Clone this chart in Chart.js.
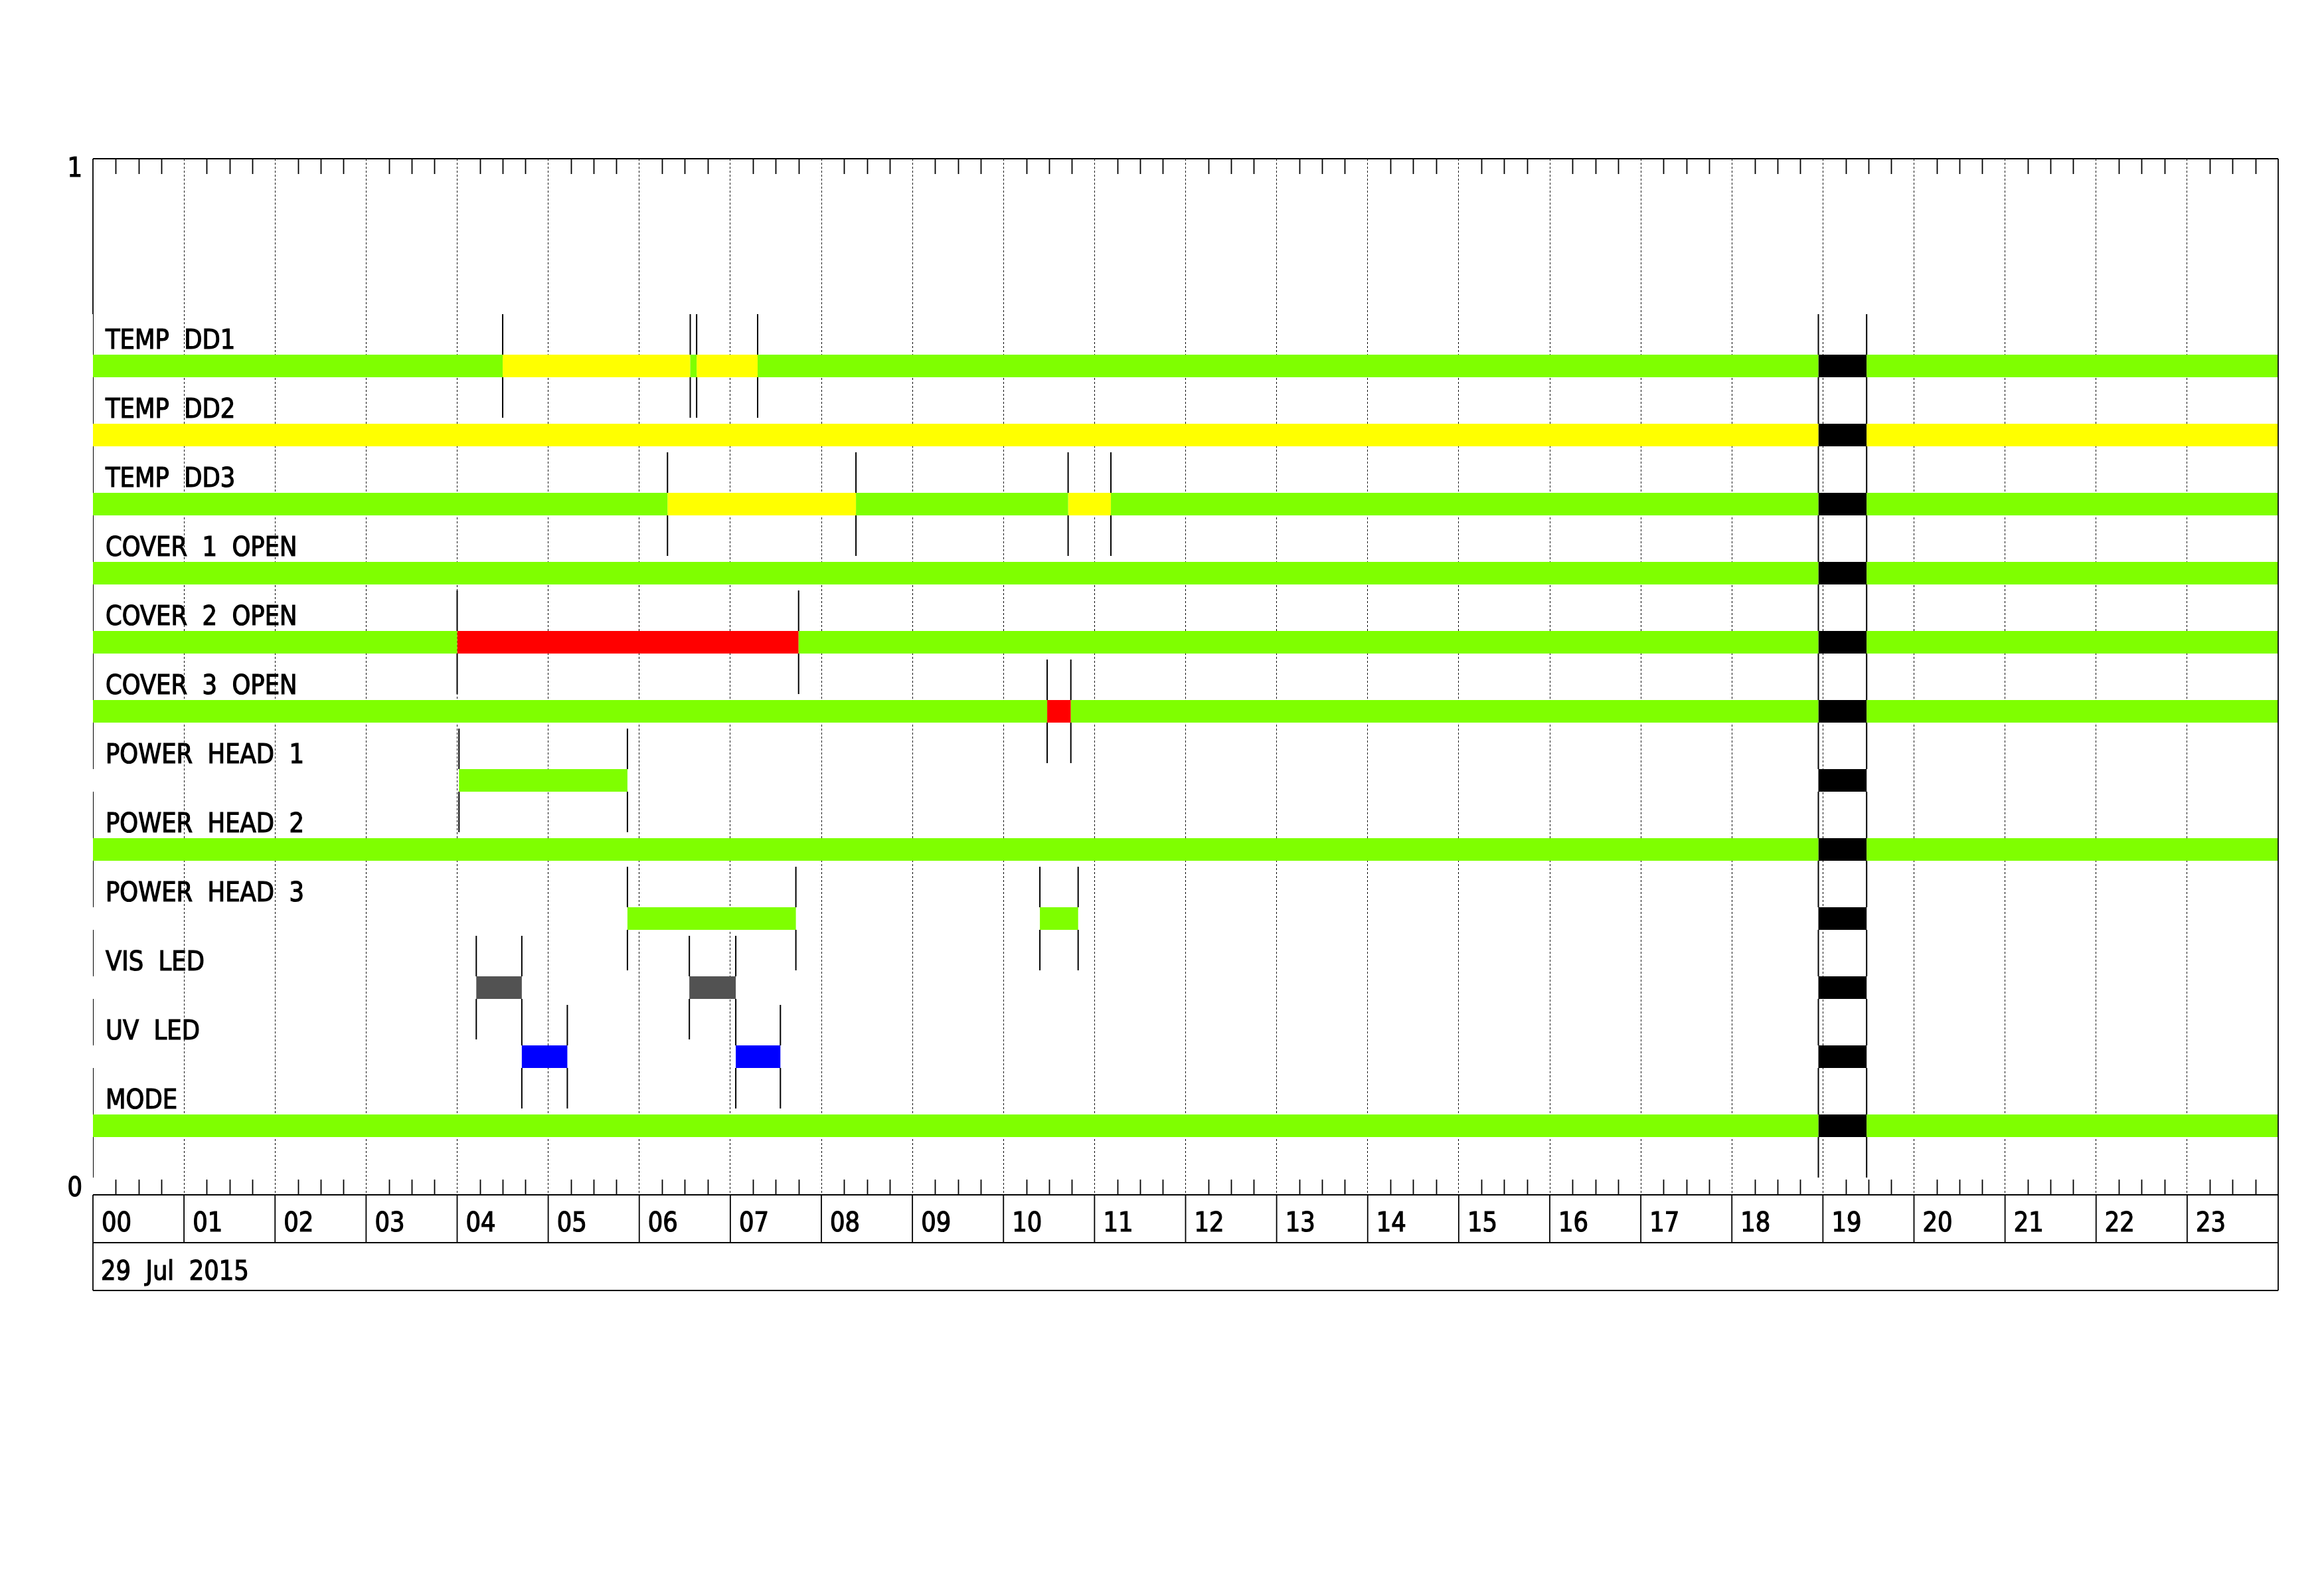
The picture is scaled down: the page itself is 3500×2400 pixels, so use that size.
<!DOCTYPE html>
<html><head><meta charset="utf-8">
<script src="https://cdn.jsdelivr.net/npm/chart.js@4.4.1/dist/chart.umd.min.js"></script>
<style>html,body{margin:0;padding:0;background:#fff}#wrap{width:3500px;height:2400px}canvas{display:block}</style>
</head><body>
<div id="wrap"><canvas id="c" width="3500" height="2400"></canvas></div>
<script>
// ---------- data ----------
const hourLabels = ['00','01','02','03','04','05','06','07','08','09','10','11','12','13','14','15','16','17','18','19','20','21','22','23'];
const dateLabel = '29 Jul 2015';
const yTickLabels = ['0', '1'];
const rowLabels = ['TEMP DD1','TEMP DD2','TEMP DD3','COVER 1 OPEN','COVER 2 OPEN','COVER 3 OPEN','POWER HEAD 1','POWER HEAD 2','POWER HEAD 3','VIS LED','UV LED','MODE'];
const rowValues = [0.800, 0.7333, 0.6667, 0.600, 0.5333, 0.4667, 0.400, 0.3333, 0.2667, 0.200, 0.1333, 0.0667];
const noDataSpan = [18.95, 19.48];
// [start hour, end hour, state]
const tempDD1   = [[0,4.50,'ok'],[4.50,6.56,'warn'],[6.56,6.63,'ok'],[6.63,7.30,'warn'],[7.30,18.95,'ok'],[19.48,24,'ok']];
const tempDD2   = [[0,18.95,'warn'],[19.48,24,'warn']];
const tempDD3   = [[0,6.31,'ok'],[6.31,8.38,'warn'],[8.38,10.71,'ok'],[10.71,11.18,'warn'],[11.18,18.95,'ok'],[19.48,24,'ok']];
const cover1    = [[0,18.95,'ok'],[19.48,24,'ok']];
const cover2    = [[0,4.00,'ok'],[4.00,7.75,'alarm'],[7.75,18.95,'ok'],[19.48,24,'ok']];
const cover3    = [[0,10.48,'ok'],[10.48,10.74,'alarm'],[10.74,18.95,'ok'],[19.48,24,'ok']];
const powerHead1 = [[4.02,5.87,'ok']];
const powerHead2 = [[0,18.95,'ok'],[19.48,24,'ok']];
const powerHead3 = [[5.87,7.72,'ok'],[10.40,10.82,'ok']];
const visLed    = [[4.21,4.71,'vis'],[6.55,7.06,'vis']];
const uvLed     = [[4.71,5.21,'uv'],[7.06,7.55,'uv']];
const mode      = [[0,18.95,'ok'],[19.48,24,'ok']];
const rowSegments = [tempDD1,tempDD2,tempDD3,cover1,cover2,cover3,powerHead1,powerHead2,powerHead3,visLed,uvLed,mode];

// ---------- styles ----------
const stateColors = {ok:'#7fff00', warn:'#ffff00', alarm:'#ff0000', vis:'#525252', uv:'#0000ff', nodata:'#000000'};
const BAR_PX = 34;
const BAR_HALF = 0.0109;   // half bar height in axis units (for marker stubs)
const MARK_HALF = 0.05;    // marker half length in axis units
const FONT = '40px "DejaVu Sans Condensed", "DejaVu Sans", sans-serif';

// ---------- datasets ----------
const byState = {};
rowSegments.forEach((segs, i) => {
  const v = rowValues[i];
  const all = segs.map(s => s.slice()).concat([[noDataSpan[0], noDataSpan[1], 'nodata']]);
  all.forEach(([a, b, st]) => {
    (byState[st] = byState[st] || []).push({x:a,y:v},{x:b,y:v},{x:b,y:null});
  });
});
const markerPts = [];
rowSegments.forEach((segs, i) => {
  const v = rowValues[i];
  const ts = new Set([0, noDataSpan[0], noDataSpan[1]]);
  segs.forEach(([a,b]) => { ts.add(a); ts.add(b); });
  [...ts].filter(t => t < 24).forEach(t => {
    markerPts.push({x:t,y:v+MARK_HALF},{x:t,y:v+BAR_HALF},{x:t,y:null});
    markerPts.push({x:t,y:v-BAR_HALF},{x:t,y:v-MARK_HALF},{x:t,y:null});
  });
});
const datasets = [{
  data: markerPts, borderColor:'#000', borderWidth:2, pointRadius:0, spanGaps:false, order:2
}];
Object.keys(byState).forEach(st => {
  datasets.push({data: byState[st], borderColor: stateColors[st], borderWidth: BAR_PX, borderCapStyle:'butt',
    pointRadius:0, spanGaps:false, order:1});
});

// ---------- decorations plugin ----------
function squeezeText(ctx, text, x, y, sx, align) {
  ctx.save();
  ctx.translate(x, y);
  ctx.scale(sx, 1);
  ctx.textAlign = align || 'left';
  ctx.fillText(text, 0, 0);
  ctx.lineWidth = 1.2;
  ctx.strokeText(text, 0, 0);
  ctx.restore();
}
const deco = {
  id:'deco',
  afterDraw(chart) {
    const {ctx, chartArea:ca, scales:{x, y}} = chart;
    const boxH = 72;
    ctx.save();
    ctx.strokeStyle = '#000';
    ctx.fillStyle = '#000';
    ctx.lineWidth = 1.8;
    ctx.beginPath();
    ctx.moveTo(ca.left, ca.top); ctx.lineTo(ca.right, ca.top);
    ctx.moveTo(ca.right, ca.top); ctx.lineTo(ca.right, ca.bottom + 2*boxH);
    ctx.moveTo(ca.left, y.getPixelForValue(rowValues[0] + MARK_HALF)); ctx.lineTo(ca.left, ca.top);
    ctx.moveTo(ca.left, ca.bottom); ctx.lineTo(ca.right, ca.bottom);
    ctx.moveTo(ca.left, ca.bottom + boxH); ctx.lineTo(ca.right, ca.bottom + boxH);
    ctx.moveTo(ca.left, ca.bottom + 2*boxH); ctx.lineTo(ca.right, ca.bottom + 2*boxH);
    ctx.moveTo(ca.left, ca.bottom); ctx.lineTo(ca.left, ca.bottom + 2*boxH);
    for (let h = 1; h < 24; h++) {
      const px = x.getPixelForValue(h);
      ctx.moveTo(px, ca.bottom); ctx.lineTo(px, ca.bottom + boxH);
    }
    for (let h = 0; h < 24; h++) {
      for (let q = 1; q < 4; q++) {
        const px = Math.round(x.getPixelForValue(h + q/4)) + 0.5;
        ctx.moveTo(px, ca.top); ctx.lineTo(px, ca.top + 23);
        ctx.moveTo(px, ca.bottom); ctx.lineTo(px, ca.bottom - 23);
      }
    }
    ctx.stroke();

    ctx.font = FONT;
    ctx.textBaseline = 'alphabetic';
    const meas = ctx.measureText('POWER  HEAD  1').width;
    const sx = 299 / meas;
    rowLabels.forEach((lab, i) => {
      const py = y.getPixelForValue(rowValues[i]);
      squeezeText(ctx, lab.replace(/ /g, '  '), ca.left + 19, py - 26, sx);
    });
    hourLabels.forEach((lab, h) => {
      squeezeText(ctx, lab, x.getPixelForValue(h) + 13, ca.bottom + 55, sx);
    });
    squeezeText(ctx, dateLabel.replace(/ /g, '  '), ca.left + 12, ca.bottom + boxH + 56, sx);
    squeezeText(ctx, yTickLabels[1], ca.left - 16, y.getPixelForValue(1) + 27, sx, 'right');
    squeezeText(ctx, yTickLabels[0], ca.left - 16, y.getPixelForValue(0) + 2, sx, 'right');
    ctx.restore();
  }
};

new Chart(document.getElementById('c'), {
  type:'line',
  data:{datasets},
  options:{
    responsive:false, animation:false, events:[],
    layout:{padding:{left:140, right:69, top:239, bottom:601}},
    plugins:{legend:{display:false}, tooltip:{enabled:false}},
    scales:{
      x:{type:'linear', min:0, max:24,
         ticks:{display:false, stepSize:1},
         grid:{drawTicks:false, lineWidth:1,
               color:(c)=> (c.tick && (c.tick.value === 0 || c.tick.value === 24)) ? 'rgba(0,0,0,0)' : '#000'},
         border:{display:false, dash:[3,3]},
         afterFit:(s)=>{s.height=0;}},
      y:{type:'linear', min:0, max:1,
         ticks:{display:false},
         grid:{display:false},
         border:{display:false},
         afterFit:(s)=>{s.width=0;}}
    }
  },
  plugins:[deco]
});
</script>
</body></html>
